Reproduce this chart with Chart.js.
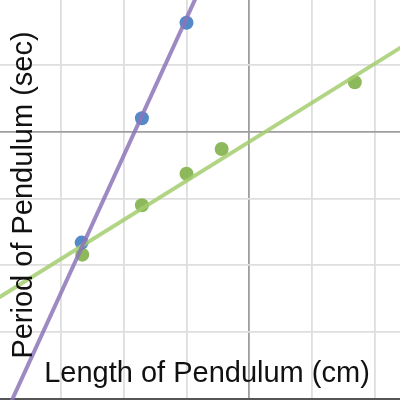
<!DOCTYPE html>
<html>
<head>
<meta charset="utf-8">
<script src="https://cdn.jsdelivr.net/npm/chart.js@4"></script>
<style>
  html, body { margin: 0; padding: 0; background: #fff; }
  #wrap { width: 400px; height: 400px; }
</style>
</head>
<body>
<div id="wrap"><canvas id="myChart" width="400" height="400"></canvas></div>
<script>
// measured pendulum data (grid units)
const lengths = [1.33, 2.29, 3.0];
const period_a = [2.34, 4.20, 5.63];
const lengths_b = [1.34, 2.29, 3.0, 3.56, 5.68];
const period_b = [2.16, 2.90, 3.37, 3.74, 4.74];

// best fit lines, two end points each
const fit_a_x = [0, 3.4];
const fit_a_y = [-0.47, 6.52];
const fit_b_x = [0, 6.5];
const fit_b_y = [1.51, 5.31];

const x_title = 'Length of Pendulum (cm)';
const y_title = 'Period of Pendulum (sec)';

const colors = {
	blue: 'rgba(70,128,196,0.92)',
	green: 'rgba(132,178,78,0.92)',
	purple_line: 'rgba(140,118,184,0.85)',
	green_line: 'rgba(164,204,112,0.85)',
};

function toPoints(xs, ys) {
	return xs.map((x, i) => ({ x: x, y: ys[i] }));
}

function gridColor(ctx) {
	const v = ctx.tick.value;
	if (v === 0) return '#555';
	if (v === 4) return '#9e9e9e';
	return '#dedede';
}
function gridWidth(ctx) {
	return ctx.tick.value === 0 ? 2.5 : 1.8;
}

// axis titles sit on top of the plot, like the original
const titles = {
	id: 'overlayTitles',
	afterDraw(chart) {
		const c = chart.ctx;
		c.save();
		c.fillStyle = '#111';
		c.font = '29px "Liberation Sans", Arial, sans-serif';
		c.textAlign = 'center';
		c.textBaseline = 'alphabetic';
		c.fillText(x_title, 207, 382);
		c.translate(32, 195);
		c.rotate(-Math.PI / 2);
		c.fillText(y_title, 0, 0);
		c.restore();
	}
};

const config = {
	type: 'scatter',
	data: {
		datasets: [
			{
				data: toPoints(fit_a_x, fit_a_y),
				showLine: true,
				borderColor: colors.purple_line,
				borderWidth: 4,
				pointRadius: 0,
				order: 1,
			},
			{
				data: toPoints(fit_b_x, fit_b_y),
				showLine: true,
				borderColor: colors.green_line,
				borderWidth: 4,
				pointRadius: 0,
				order: 1,
			},
			{
				data: toPoints(lengths, period_a),
				backgroundColor: colors.blue,
				borderWidth: 0,
				pointRadius: 7,
				order: 2,
			},
			{
				data: toPoints(lengths_b, period_b),
				backgroundColor: colors.green,
				borderWidth: 0,
				pointRadius: 7,
				order: 2,
			},
		],
	},
	options: {
		responsive: false,
		animation: false,
		layout: { padding: 0, autoPadding: false },
		plugins: {
			legend: { display: false },
			tooltip: { enabled: false },
		},
		scales: {
			x: {
				type: 'linear',
				min: 0.03,
				max: 6.40,
				border: { display: false },
				grid: { color: gridColor, lineWidth: gridWidth, drawTicks: false },
				ticks: { display: false, padding: 0, stepSize: 1, includeBounds: false },
			},
			y: {
				type: 'linear',
				min: -0.015,
				max: 5.97,
				border: { display: false },
				grid: { color: gridColor, lineWidth: gridWidth, drawTicks: false },
				ticks: { display: false, padding: 0, stepSize: 1, includeBounds: false },
			},
		},
	},
	plugins: [titles],
};

var myChart = new Chart(document.getElementById('myChart'), config);
</script>
</body>
</html>
